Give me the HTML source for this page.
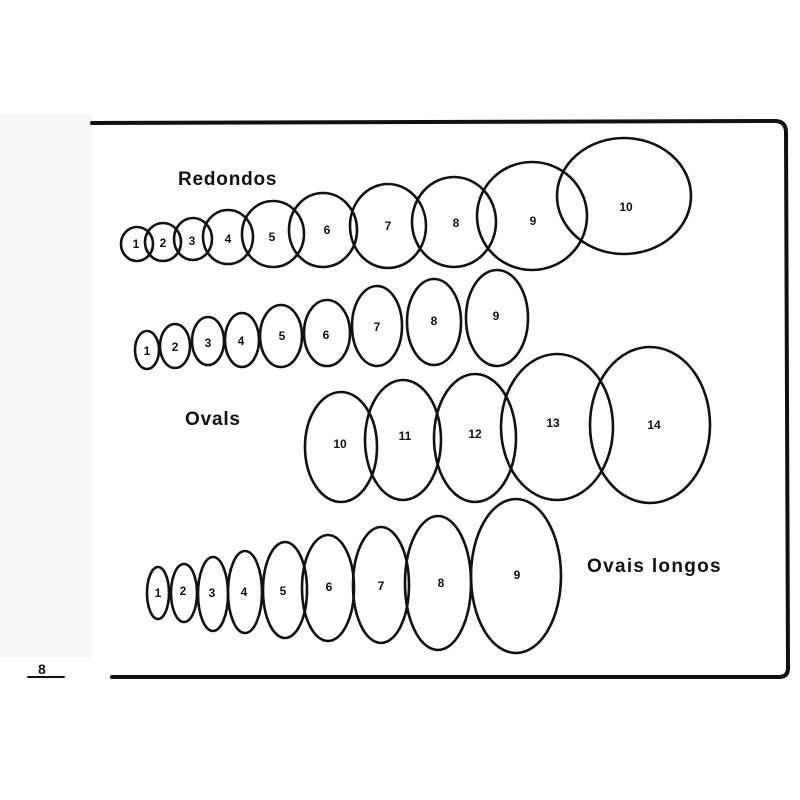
<!DOCTYPE html>
<html><head><meta charset="utf-8"><style>
html,body{margin:0;padding:0;background:#fff;}
svg{display:block;}
text{font-family:"Liberation Sans",sans-serif;font-weight:bold;fill:#111;}
</style></head><body>
<svg width="800" height="800" viewBox="0 0 800 800" xmlns="http://www.w3.org/2000/svg">
<rect x="0" y="0" width="800" height="800" fill="#fff"/>
<rect x="0" y="114" width="92" height="544" fill="#f7f7f7"/>
<g fill="none" stroke="#111" stroke-linecap="round">
<path d="M92 123 L775 121 Q785 121 786 131 L788 668 Q788 677 779 677 L112 677" stroke-width="4"/>
<line x1="28" y1="677" x2="64" y2="677" stroke-width="2"/>
</g>
<text x="38" y="674" font-size="14">8</text>
<g fill="none" stroke="#111" stroke-width="2.6">
<ellipse cx="137" cy="244" rx="16" ry="17"/>
<ellipse cx="163" cy="242" rx="18" ry="19"/>
<ellipse cx="193" cy="239" rx="19" ry="21"/>
<ellipse cx="228" cy="237" rx="25" ry="27"/>
<ellipse cx="273" cy="234" rx="31" ry="33"/>
<ellipse cx="323" cy="230" rx="34" ry="37"/>
<ellipse cx="388" cy="226" rx="38" ry="42"/>
<ellipse cx="454" cy="222" rx="42" ry="45"/>
<ellipse cx="532" cy="216" rx="55" ry="54"/>
<ellipse cx="624" cy="196" rx="67" ry="58"/>
<ellipse cx="147" cy="350" rx="12" ry="19"/>
<ellipse cx="175" cy="346" rx="15" ry="22"/>
<ellipse cx="208" cy="341" rx="16" ry="24"/>
<ellipse cx="242" cy="340" rx="17" ry="27"/>
<ellipse cx="281" cy="336" rx="21" ry="31"/>
<ellipse cx="327" cy="333" rx="23" ry="33"/>
<ellipse cx="377" cy="326" rx="25" ry="40"/>
<ellipse cx="434" cy="322" rx="27" ry="43"/>
<ellipse cx="497" cy="318" rx="31" ry="48"/>
<ellipse cx="341" cy="447" rx="36" ry="55"/>
<ellipse cx="403" cy="440" rx="38" ry="60"/>
<ellipse cx="475" cy="438" rx="41" ry="64"/>
<ellipse cx="557" cy="427" rx="56" ry="73"/>
<ellipse cx="650" cy="425" rx="60" ry="78"/>
<ellipse cx="158" cy="593" rx="11" ry="26"/>
<ellipse cx="184" cy="593" rx="13" ry="29"/>
<ellipse cx="213" cy="594" rx="15" ry="37"/>
<ellipse cx="245" cy="592" rx="17" ry="41"/>
<ellipse cx="285" cy="590" rx="22" ry="48"/>
<ellipse cx="328" cy="588" rx="26" ry="53"/>
<ellipse cx="381" cy="585" rx="28" ry="58"/>
<ellipse cx="438" cy="583" rx="33" ry="67"/>
<ellipse cx="516" cy="576" rx="45" ry="77"/>
</g>
<g font-size="12" text-anchor="middle">
<text x="136" y="248">1</text><text x="163" y="247">2</text><text x="192" y="245">3</text><text x="228" y="243">4</text><text x="272" y="241">5</text><text x="327" y="234">6</text><text x="388" y="230">7</text><text x="456" y="227">8</text><text x="533" y="225">9</text><text x="626" y="211">10</text>
<text x="147" y="355">1</text><text x="175" y="351">2</text><text x="208" y="347">3</text><text x="241" y="345">4</text><text x="282" y="340">5</text><text x="326" y="339">6</text><text x="377" y="331">7</text><text x="434" y="325">8</text><text x="496" y="320">9</text>
<text x="340" y="448">10</text><text x="405" y="440">11</text><text x="475" y="438">12</text><text x="553" y="427">13</text><text x="654" y="429">14</text>
<text x="158" y="597">1</text><text x="183" y="595">2</text><text x="212" y="597">3</text><text x="244" y="596">4</text><text x="283" y="595">5</text><text x="329" y="591">6</text><text x="381" y="590">7</text><text x="441" y="587">8</text><text x="517" y="579">9</text>
</g>
<g font-size="19">
<text x="178" y="185" letter-spacing="0.8">Redondos</text>
<text x="185" y="425" letter-spacing="0.8">Ovals</text>
<text x="587" y="572" letter-spacing="1.3">Ovais longos</text>
</g>
</svg>
</body></html>
